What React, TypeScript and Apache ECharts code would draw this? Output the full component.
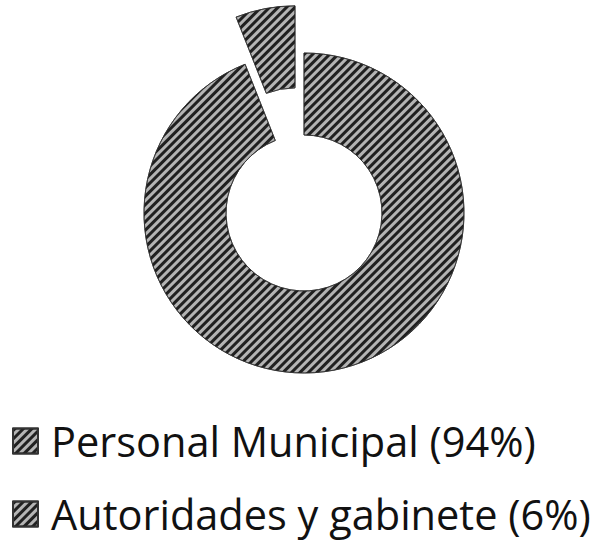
import React, { useEffect, useRef } from "react";
import * as echarts from "echarts";

const categories = ["Personal Municipal", "Autoridades y gabinete"];
const values = [94, 6];
const exploded = [false, true];

export default function App() {
  const ref = useRef<HTMLDivElement>(null);
  useEffect(() => {
    if (!ref.current) return;
    const chart = echarts.init(ref.current, null, { renderer: "svg" });
    const decal = {
      symbol: "rect",
      color: "rgba(15,15,15,0.9)",
      dashArrayX: [1, 0],
      dashArrayY: [2.3, 2.4],
      rotation: -Math.PI / 4,
      symbolSize: 1,
    };
    const labels = categories.map((c, i) => `${c} (${values[i]}%)`);
    const legendTops = [419, 492];
    chart.setOption({
      animation: false,
      backgroundColor: "#ffffff",
      legend: labels.map((l, i) => ({
        orient: "vertical",
        left: 12,
        top: legendTops[i],
        padding: 0,
        itemWidth: 25,
        itemHeight: 25,
        selectedMode: false,
        icon: "rect",
        textStyle: {
          fontFamily: "Open Sans",
          fontSize: 41.5,
          lineHeight: 44,
          color: "#111",
          padding: [0, 0, 0, 8],
        },
        data: [l],
      })),
      series: [
        {
          type: "pie",
          center: [304, 213],
          radius: [78, 160],
          startAngle: 90,
          clockwise: true,
          selectedMode: "single",
          selectedOffset: 48,
          label: { show: false },
          labelLine: { show: false },
          emphasis: { disabled: true },
          itemStyle: {
            color: "#b4b4b4",
            borderColor: "#333",
            borderWidth: 0.8,
            decal,
          },
          data: labels.map((n, i) => ({
            name: n,
            value: values[i],
            selected: exploded[i],
          })),
        },
      ],
    });
    return () => chart.dispose();
  }, []);
  return (
    <div
      ref={ref}
      style={{ position: "fixed", left: 0, top: 0, width: 597, height: 542 }}
    />
  );
}
